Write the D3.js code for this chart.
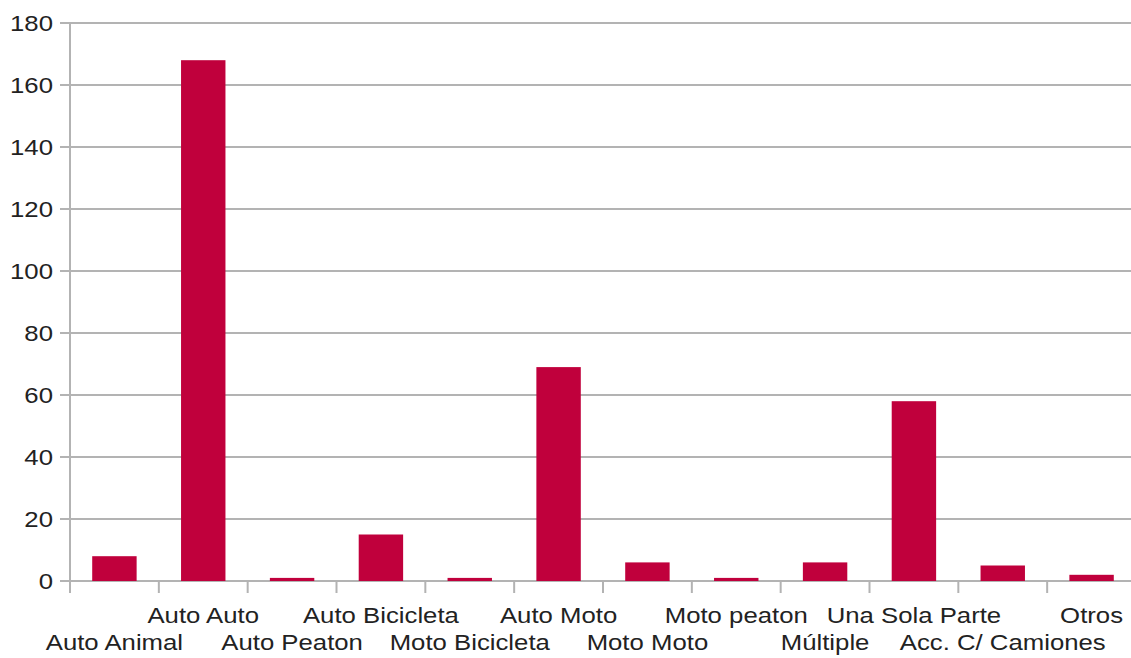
<!DOCTYPE html>
<html><head><meta charset="utf-8">
<script src="https://cdn.jsdelivr.net/npm/d3@7"></script>
<style>body{margin:0;background:#fff}text{font-family:"Liberation Sans",Arial,sans-serif}</style>
</head><body><svg id="c" width="1131" height="658"></svg>
<script>
const categories = ["Auto Animal","Auto Auto","Auto Peaton","Auto Bicicleta","Moto Bicicleta","Auto Moto","Moto Moto","Moto peaton","Múltiple","Una Sola Parte","Acc. C/ Camiones","Otros"];
const values = [8,168,1,15,1,69,6,1,6,58,5,2];
const yTicks = [0,20,40,60,80,100,120,140,160,180];

const svg = d3.select("#c");
const x = d3.scaleBand().domain(categories).range([70,1136]).paddingInner(0.5).paddingOuter(0.25);
const y = d3.scaleLinear().domain([0,180]).range([581,23]);
const grid = "#b3b3b3";
const sx = 1.17, fs = 22;

svg.append("g").selectAll("line").data(yTicks).join("line")
  .attr("x1",60).attr("x2",1136).attr("y1",d=>y(d)).attr("y2",d=>y(d))
  .attr("stroke",grid).attr("stroke-width",2);
svg.append("line").attr("x1",70).attr("x2",70).attr("y1",23).attr("y2",593).attr("stroke",grid).attr("stroke-width",2);
svg.append("g").selectAll("g").data(yTicks).join("g")
  .attr("transform",d=>`translate(53,${y(d)}) scale(${sx},1)`)
  .append("text").attr("dy","0.36em").attr("text-anchor","end")
  .attr("font-size",fs).attr("fill","#222").text(d=>d);
const step = x.step();
const bounds = d3.range(categories.length+1).map(i=>70+i*step);
svg.append("g").selectAll("line").data(bounds).join("line")
  .attr("x1",d=>d).attr("x2",d=>d).attr("y1",581).attr("y2",593)
  .attr("stroke",grid).attr("stroke-width",2);
svg.append("g").selectAll("rect").data(values).join("rect")
  .attr("x",(d,i)=>x(categories[i])).attr("width",x.bandwidth())
  .attr("y",d=>y(d)).attr("height",d=>y(0)-y(d)).attr("fill","#c0003c");
svg.append("g").selectAll("g").data(categories).join("g")
  .attr("transform",(d,i)=>`translate(${x(d)+x.bandwidth()/2},${i%2===1?623:650}) scale(${sx},1)`)
  .append("text").attr("text-anchor","middle").attr("font-size",fs).attr("fill","#222").text(d=>d);
</script></body></html>
